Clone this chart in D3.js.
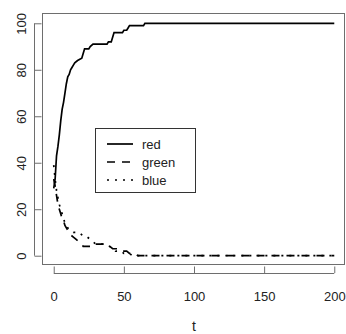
<!DOCTYPE html>
<html><head><meta charset="utf-8">
<script src="https://cdn.jsdelivr.net/npm/d3@7/dist/d3.min.js"></script>
<style>html,body{margin:0;padding:0;background:#fff;}svg{display:block;}</style>
</head><body><div id="chart"></div>
<script>
const redT   = [0,1,2,3,4,5,6,7,8,9,10,11,12,13,14,15,17,20,21,22,25,26,28,38,39,41,42,43,49,50,52,53,54,64,65,200];
const redV   = [29,33,43,47,52,58,63,66,70,74,77,78,80,81,82,83,84,85,87,89,89,90,91,91,92,92,94,96,96,97,97,98,99,99,100,100];
const greenT = [0,1,2,3,4,5,6,7,8,9,10,11,12,14,16,18,20,21,28,29,38,40,42,46,48,52,54,58,60,200];
const greenV = [33,30,26,22,20,18,16,15,13,12,11,10,9,8,7,6,5,4,4,5,5,4,3,3,2,2,1,1,0,0];
const blueT  = [0,1,2,3,4,5,6,7,8,9,10,12,14,18,20,22,24,26,28,30,35,40,42,44,48,50,54,56,200];
const blueV  = [39,33,28,25,22,20,18,16,14,13,12,11,10,10,9,8,8,7,6,5,5,4,3,2,2,1,1,0,0];
const xTicks = [0,50,100,150,200];
const yTicks = [0,20,40,60,80,100];
const legendLabels = ["red","green","blue"];
const xLabel = "t";

const W = 346, H = 334;
const svg = d3.select("#chart").append("svg").attr("width", W).attr("height", H);
const x = d3.scaleLinear().domain([-8, 208]).range([42.5, 345.5]);
const y = d3.scaleLinear().domain([-4, 104]).range([265, 14]);
const font = "'Liberation Sans', Arial, sans-serif";

// frame
svg.append("rect").attr("x", 42.5).attr("y", 13.5).attr("width", 302).attr("height", 251)
  .attr("fill", "none").attr("stroke", "#6e6e6e").attr("stroke-width", 1);

// x axis
const xa = svg.append("g").attr("transform", "translate(0,273)")
  .call(d3.axisBottom(x).tickValues(xTicks).tickSize(7).tickSizeOuter(0).tickPadding(12).tickFormat(d3.format("d")));
xa.select(".domain").remove();
xa.selectAll(".tick line").attr("stroke", "#6e6e6e").attr("y1", -6.5).attr("y2", 0);
xa.selectAll(".tick text").attr("font-family", font).attr("font-size", 13).attr("fill", "#222");
svg.append("line").attr("x1", x(0)).attr("x2", x(200)).attr("y1", 273.5).attr("y2", 273.5).attr("stroke", "#6e6e6e");

// y axis
const ya = svg.append("g").attr("transform", "translate(34.5,0)")
  .call(d3.axisLeft(y).tickValues(yTicks).tickSize(-7).tickSizeOuter(0).tickFormat(d3.format("d")));
ya.select(".domain").remove();
ya.selectAll(".tick line").attr("stroke", "#6e6e6e").attr("x1", 0).attr("x2", 7);
ya.selectAll(".tick text").attr("font-family", font).attr("font-size", 13).attr("fill", "#222")
  .attr("x", null).attr("dy", null).attr("text-anchor", "middle")
  .attr("transform", "translate(-9,0) rotate(-90)");
svg.append("line").attr("x1", 34.5).attr("x2", 34.5).attr("y1", y(0)).attr("y2", y(100)).attr("stroke", "#6e6e6e");

svg.append("text").attr("x", (x(0)+x(200))/2).attr("y", 331).attr("text-anchor", "middle")
  .attr("font-family", font).attr("font-size", 14).attr("fill", "#222").text(xLabel);

// lines
const series = [
  {t: redT, v: redV, dash: null},
  {t: greenT, v: greenV, dash: "8,7"},
  {t: blueT, v: blueV, dash: "2,6"}
];
const line = d3.line().x(d => x(d[0])).y(d => y(d[1]));
series.forEach(s => {
  svg.append("path").datum(s.t.map((t, i) => [t, s.v[i]]))
    .attr("d", line).attr("fill", "none").attr("stroke", "#000").attr("stroke-width", 1.7)
    .attr("stroke-dasharray", s.dash);
});

// legend
const lg = svg.append("g");
lg.append("rect").attr("x", 95.5).attr("y", 128.5).attr("width", 100).attr("height", 64)
  .attr("fill", "#fff").attr("stroke", "#333").attr("stroke-width", 1);
legendLabels.forEach((lab, i) => {
  const yy = 144 + i * 18;
  lg.append("line").attr("x1", 107).attr("x2", 133).attr("y1", yy).attr("y2", yy)
    .attr("stroke", "#000").attr("stroke-width", 1.7).attr("stroke-dasharray", series[i].dash);
  lg.append("text").attr("x", 142).attr("y", yy + 5).attr("font-family", font).attr("font-size", 13)
    .attr("fill", "#222").text(lab);
});
</script></body></html>
